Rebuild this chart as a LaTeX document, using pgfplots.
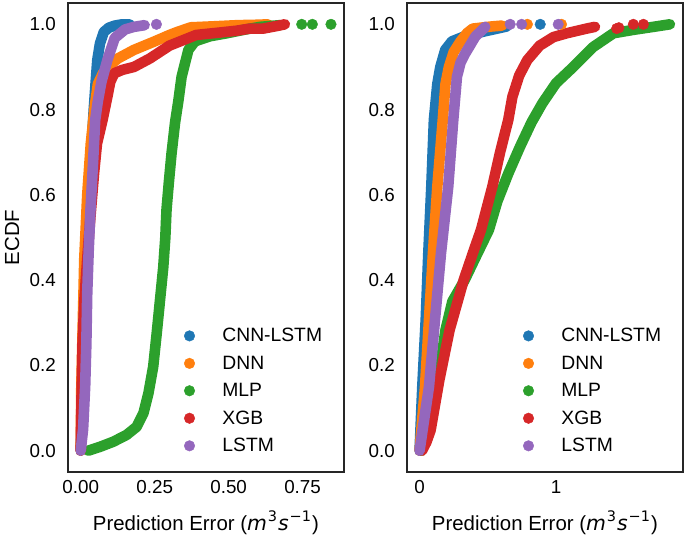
\documentclass[border=0pt]{standalone}
\usepackage{fontspec}
\setmainfont{Liberation Sans}
\newfontfamily\mathsans{DejaVu Sans}
\usepackage{pgfplots}
\pgfplotsset{compat=1.18}

\definecolor{cblue}{HTML}{1F77B4}
\definecolor{corange}{HTML}{FF7F0E}
\definecolor{cgreen}{HTML}{2CA02C}
\definecolor{cred}{HTML}{D62728}
\definecolor{cpurple}{HTML}{9467BD}
\definecolor{frame}{HTML}{262626}

\newcommand{\upidx}[1]{\kern0.8pt\raisebox{0.42em}{\fontsize{14.5}{16}\selectfont\mathsans #1}\kern1.2pt}
\newcommand{\units}{{\mathsans\itshape m}\upidx{3}{\mathsans\itshape s}\upidx{−1}}

\pgfplotsset{
  body/.style={#1, line width=10.6pt, line cap=round, line join=round, forget plot},
  tail/.style={#1, only marks, mark=*, mark size=5.3pt, forget plot},
  panel/.style={
    scale only axis, width=276pt, height=469pt,
    ymin=-0.05, ymax=1.05,
    ytick={0,0.2,0.4,0.6,0.8,1.0},
    yticklabel style={/pgf/number format/fixed, /pgf/number format/fixed zerofill,
      /pgf/number format/precision=1, xshift=-8.7pt},
    /pgf/number format/assume math mode=true,
    tick label style={font=\fontsize{18.8}{22}\selectfont},
    xticklabel style={yshift=-4.7pt},
    major tick length=0pt,
    axis line style={draw=frame, line width=2.2pt},
    label style={font=\fontsize{20.4}{24}\selectfont},
    xlabel={Prediction Error (\units)},
    xlabel style={at={(axis description cs:0.5,-0.1237)}, anchor=base},
    legend image code/.code={\fill[##1] (0pt,0pt) circle (5.3pt);},
    legend cell align=left,
    legend style={at={(0.4203,0.0356)}, anchor=south west, draw=none, fill=none,
      inner sep=0pt, outer sep=0pt, row sep=8.6pt, column sep=25.4pt,
      font=\fontsize{19.3}{22}\selectfont},
  },
}

\begin{document}
\begin{tikzpicture}
\path[use as bounding box] (-68pt,-64pt) rectangle (617pt,472pt);

% left panel
\begin{axis}[panel, at={(0pt,0pt)}, anchor=south west,
  xmin=-0.043, xmax=0.89,
  xtick={0,0.25,0.5,0.75},
  xticklabel style={/pgf/number format/fixed, /pgf/number format/fixed zerofill,
    /pgf/number format/precision=2},
  ylabel={ECDF},
  ylabel style={at={(axis description cs:-0.1775,0.5)}, anchor=base},
]
\addlegendimage{cblue}\addlegendentry{CNN-LSTM}
\addlegendimage{corange}\addlegendentry{DNN}
\addlegendimage{cgreen}\addlegendentry{MLP}
\addlegendimage{cred}\addlegendentry{XGB}
\addlegendimage{cpurple}\addlegendentry{LSTM}

% CNN-LSTM
\addplot[body=cblue] coordinates {
(0,0) (0.004,0.1) (0.01,0.25) (0.016,0.4) (0.026,0.57) (0.037,0.72)
(0.044,0.80) (0.05,0.86) (0.056,0.916) (0.065,0.955) (0.078,0.982)
(0.095,0.992) (0.115,0.997) (0.14,1.0) (0.165,1.0)};
% DNN
\addplot[body=corange] coordinates {
(0,0) (0.002,0.15) (0.007,0.3) (0.012,0.45) (0.022,0.6) (0.034,0.72)
(0.046,0.8) (0.058,0.86) (0.075,0.885) (0.1,0.905) (0.126,0.92)
(0.18,0.94) (0.25,0.96) (0.3,0.975) (0.33,0.983) (0.373,0.993)
(0.44,0.995) (0.5,0.997) (0.53,0.998) (0.6,0.999) (0.633,1.0)};
% MLP
\addplot[body=cgreen] coordinates {
(0.026,0.0) (0.065,0.009) (0.11,0.021) (0.155,0.037) (0.189,0.056)
(0.212,0.088) (0.229,0.135) (0.245,0.197) (0.257,0.276) (0.268,0.353)
(0.279,0.43) (0.286,0.5) (0.29,0.565) (0.298,0.63) (0.307,0.697)
(0.319,0.77) (0.33,0.82) (0.341,0.877) (0.364,0.94) (0.386,0.96)
(0.437,0.972) (0.494,0.979) (0.55,0.987) (0.606,0.994) (0.674,0.998)};
\addplot[tail=cgreen] coordinates {(0.747,1.0) (0.783,1.0) (0.846,1.0)};
% XGB
\addplot[body=cred] coordinates {
(0,0) (0.002,0.1) (0.006,0.25) (0.012,0.35) (0.022,0.45) (0.033,0.55)
(0.045,0.65) (0.055,0.72) (0.074,0.776) (0.09,0.83) (0.1,0.865)
(0.113,0.885) (0.14,0.893) (0.18,0.90) (0.234,0.92) (0.30,0.95)
(0.39,0.975) (0.46,0.98) (0.527,0.985) (0.572,0.99) (0.617,0.99)
(0.663,0.996) (0.69,1.0)};
% LSTM
\addplot[body=cpurple] coordinates {
(0,0) (0.008,0.05) (0.015,0.15) (0.019,0.25) (0.022,0.37) (0.027,0.47)
(0.033,0.565) (0.042,0.68) (0.049,0.776) (0.058,0.82) (0.07,0.865)
(0.09,0.916) (0.115,0.968) (0.15,0.988) (0.18,0.994) (0.216,0.998)};
\addplot[tail=cpurple] coordinates {(0.256,1.0)};
\end{axis}

% right panel
\begin{axis}[panel, at={(339pt,0pt)}, anchor=south west,
  xmin=-0.092, xmax=1.93,
  xtick={0,1},
]
\addlegendimage{cblue}\addlegendentry{CNN-LSTM}
\addlegendimage{corange}\addlegendentry{DNN}
\addlegendimage{cgreen}\addlegendentry{MLP}
\addlegendimage{cred}\addlegendentry{XGB}
\addlegendimage{cpurple}\addlegendentry{LSTM}

% CNN-LSTM
\addplot[body=cblue] coordinates {
(0,0) (0.02,0.15) (0.045,0.307) (0.064,0.463) (0.086,0.619) (0.105,0.776)
(0.13,0.86) (0.152,0.9) (0.188,0.94) (0.237,0.96) (0.323,0.971)
(0.47,0.983) (0.64,0.995)};
\addplot[tail=cblue] coordinates {(0.884,1.0)};
% DNN
\addplot[body=corange] coordinates {
(0,0) (0.04,0.15) (0.069,0.307) (0.098,0.463) (0.13,0.619) (0.17,0.776)
(0.19,0.86) (0.215,0.9) (0.25,0.935) (0.3,0.96) (0.35,0.98) (0.39,0.99)
(0.53,0.995) (0.604,0.997)};
\addplot[tail=corange] coordinates {(0.79,1.0) (1.04,1.0)};
% MLP
\addplot[body=cgreen] coordinates {
(0.015,0) (0.06,0.06) (0.1,0.12) (0.137,0.166) (0.19,0.283) (0.24,0.35)
(0.33,0.40) (0.42,0.46) (0.508,0.518) (0.57,0.585) (0.65,0.65)
(0.736,0.713) (0.82,0.77) (0.9,0.815) (1.0,0.862) (1.126,0.90)
(1.273,0.947) (1.42,0.979) (1.566,0.987) (1.712,0.994) (1.834,1.0)};
% XGB
\addplot[body=cred] coordinates {
(0.018,0.0) (0.05,0.02) (0.081,0.048) (0.145,0.166) (0.22,0.283)
(0.323,0.40) (0.39,0.463) (0.45,0.518) (0.533,0.619)
(0.59,0.7) (0.65,0.776) (0.68,0.83) (0.73,0.88) (0.789,0.916)
(0.88,0.95) (0.98,0.97) (1.078,0.979) (1.224,0.99) (1.285,0.994)};
\addplot[tail=cred] coordinates {(1.444,0.99) (1.46,0.992) (1.566,1.0) (1.64,1.0)};
% LSTM
\addplot[body=cpurple] coordinates {
(0,0) (0.069,0.15) (0.113,0.307) (0.157,0.463) (0.21,0.619) (0.247,0.776)
(0.274,0.877) (0.3,0.91) (0.335,0.932) (0.408,0.971) (0.481,0.994)};
\addplot[tail=cpurple] coordinates {(0.664,1.0) (0.748,1.0) (1.016,1.0)};
\end{axis}
\end{tikzpicture}
\end{document}
